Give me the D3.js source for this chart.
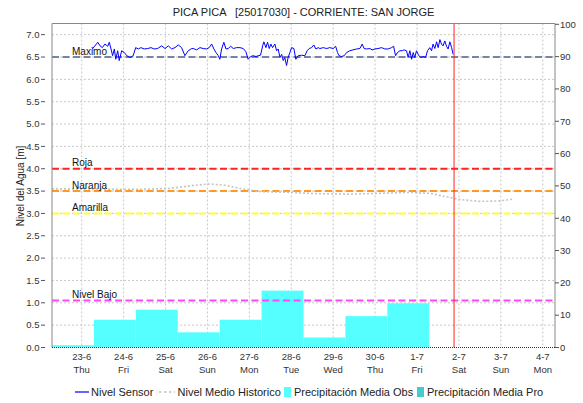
<!DOCTYPE html>
<html><head><meta charset="utf-8">
<script src="https://cdn.jsdelivr.net/npm/d3@7"></script>
<style>
html,body{margin:0;padding:0;background:#fff;}
svg{display:block;font-family:"Liberation Sans",Arial,sans-serif;}
</style></head>
<body><svg id="c" width="583" height="403"></svg>
<script>
// ---------- DATA ----------
const titleText = "PICA PICA   [25017030] - CORRIENTE: SAN JORGE";
const yLabel = "Nivel del Agua [m]";
// day ticks (dates 2016)
const tickDates = ["2016-06-23","2016-06-24","2016-06-25","2016-06-26","2016-06-27","2016-06-28","2016-06-29","2016-06-30","2016-07-01","2016-07-02","2016-07-03","2016-07-04"];
const leftTicks = [0,0.5,1,1.5,2,2.5,3,3.5,4,4.5,5,5.5,6,6.5,7];
const rightTicks = [0,10,20,30,40,50,60,70,80,90,100];
// precipitation (mm/day, 07:00 -> 07:00), day start dates
const precipDays = ["2016-06-22","2016-06-23","2016-06-24","2016-06-25","2016-06-26","2016-06-27","2016-06-28","2016-06-29","2016-06-30"];
const precipObs = [0.7, 8.6, 11.7, 4.7, 8.6, 17.6, 3.1, 9.7, 13.7];
// thresholds (m)
const thrNames = ["Maximo","Roja","Naranja","Amarilla","Nivel Bajo"];
const thrLevels = [6.5, 4.0, 3.5, 3.0, 1.05];
const thrColors = ["#7784a6","#ff2222","#ff9922","#ffff33","#ff44ff"];
// sensor level: hours after 2016-06-23 00:00, value (m)
const sensorT = [6.1,8.0,9.2,10.5,11.8,13.3,14.9,15.8,16.8,17.7,18.7,19.5,20.6,21.5,22.9,24.4,25.8,27.6,29.5,30.9,32.4,33.9,35.8,37.8,39.7,41.5,43.5,45.8,47.7,49.6,51.5,53.4,55.3,57.2,59.1,61.0,63.0,
 63.9,65.8,67.7,69.6,71.5,73.0,74.4,75.7,76.9,78.2,79.1,80.1,81.4,82.6,83.9,85.3,86.8,88.7,90.6,92.5,94.0,95.3,96.7,98.2,99.8,101.1,102.4,103.6,104.3,105.5,106.4,107.4,108.3,109.3,110.6,111.6,112.5,113.5,114.5,115.4,116.3,117.3,118.2,119.2,120.2,121.5,122.6,124.0,125.9,127.8,129.1,130.3,131.6,132.9,134.1,135.4,
 136.4,138.3,140.2,142.1,144.0,145.4,146.5,147.3,148.8,150.3,151.7,153.5,155.4,157.4,159.3,160.6,161.7,163.1,165.0,166.3,167.9,169.7,171.7,173.6,175.5,177.4,178.6,179.7,180.8,182.2,183.5,184.6,186.0,186.9,187.9,188.9,189.8,190.7,191.7,193.0,194.2,195.5,196.9,198.0,199.3,200.3,201.2,202.2,203.2,204.1,205.1,206.0,206.9,207.9,208.9,209.8,210.8,211.8,212.7];
const sensorV = [6.68,6.77,6.83,6.75,6.71,6.79,6.74,6.83,6.68,6.53,6.68,6.45,6.64,6.42,6.64,6.60,6.53,6.49,6.53,6.71,6.68,6.71,6.68,6.69,6.71,6.68,6.69,6.75,6.69,6.75,6.68,6.71,6.77,6.71,6.53,6.64,6.69,
 6.69,6.66,6.71,6.69,6.68,6.71,6.79,6.68,6.60,6.53,6.45,6.68,6.83,6.68,6.69,6.74,6.69,6.71,6.71,6.69,6.62,6.45,6.51,6.53,6.51,6.53,6.54,6.75,6.84,6.71,6.83,6.69,6.79,6.71,6.79,6.64,6.68,6.49,6.56,6.42,6.49,6.31,6.49,6.60,6.71,6.69,6.45,6.53,6.54,6.53,6.64,6.69,6.71,6.77,6.68,6.71,
 6.69,6.71,6.69,6.71,6.69,6.74,6.60,6.53,6.51,6.53,6.60,6.64,6.66,6.68,6.69,6.79,6.69,6.68,6.69,6.66,6.68,6.69,6.71,6.68,6.68,6.71,6.74,6.53,6.60,6.64,6.64,6.66,6.64,6.49,6.64,6.45,6.60,6.49,6.64,6.53,6.49,6.51,6.49,6.64,6.71,6.64,6.79,6.69,6.84,6.71,6.89,6.79,6.75,6.86,6.74,6.68,6.84,6.71,6.56];
// historic mean level: hours after 2016-06-23 00:00, value (m)
const histT = [-17,-1.0,16.2,33.4,50.5,64.8,73.4,82.0,90.6,102.0,119.2,136.4,153.6,170.7,187.9,199.3,207.9,216.5,228.0,239.4,246.8];
const histV = [3.55,3.55,3.54,3.54,3.56,3.63,3.66,3.63,3.56,3.49,3.47,3.44,3.43,3.45,3.47,3.45,3.38,3.31,3.27,3.28,3.32];
// current time marker (hours after 2016-06-23 00:00)
const nowHour = 213.2;
const legendNames = ["Nivel Sensor","Nivel Medio Historico","Precipitación Media Obs","Precipitación Media Pro"];
const legendColors = ["#0000ff","#c4c4c4","#55ffff","#44cccc"];

// ---------- CHART ----------
const svg = d3.select("#c");
const L = 52, R = 555, T = 23.5, B = 347.5;
const base = Date.UTC(2016,5,23,0);
const hr = h => new Date(base + h*3600e3);
const parseD = s => { const [y,m,d] = s.split("-").map(Number); return new Date(Date.UTC(y,m-1,d)); };
const x = d3.scaleUtc().domain([new Date(Date.UTC(2016,5,22,7)), new Date(Date.UTC(2016,6,4,7))]).range([L,R]);
const yL = d3.scaleLinear().domain([0,7.25]).range([B,T]);
const yR = d3.scaleLinear().domain([0,100]).range([B,T+0.8]);

svg.append("rect").attr("width",583).attr("height",403).attr("fill","#fff");

// title
svg.append("text").attr("x",(L+R)/2).attr("y",16).attr("text-anchor","middle")
  .attr("font-size",11).attr("fill","#222").style("white-space","pre").text(titleText);

const g = svg.append("g");
const clip = svg.append("defs").append("clipPath").attr("id","pc").append("rect")
  .attr("x",L).attr("y",T).attr("width",R-L).attr("height",B-T);

// gridlines
const days = tickDates.map(parseD);
g.selectAll("line.vg").data(days).join("line").attr("class","vg")
  .attr("x1",d=>x(d)).attr("x2",d=>x(d)).attr("y1",T).attr("y2",B)
  .attr("stroke","#c8c8c8").attr("stroke-dasharray","2,2");
g.selectAll("line.hg").data(leftTicks.filter(v=>v>0)).join("line").attr("class","hg")
  .attr("x1",L).attr("x2",R).attr("y1",d=>yL(d)).attr("y2",d=>yL(d))
  .attr("stroke","#c8c8c8").attr("stroke-dasharray","2,2");

// precipitation bars
const pd = precipDays.map((s,i)=>({s:new Date(parseD(s).getTime()+7*3600e3), v:precipObs[i]}));
g.append("g").attr("clip-path","url(#pc)").selectAll("rect").data(pd).join("rect")
  .attr("x",d=>x(d.s)).attr("width",d=>x(new Date(d.s.getTime()+24*3600e3))-x(d.s))
  .attr("y",d=>yR(d.v)).attr("height",d=>B-yR(d.v)).attr("fill",legendColors[2]);

// threshold lines
thrLevels.forEach((lv,i)=>{
  g.append("line").attr("x1",L).attr("x2",R).attr("y1",yL(lv)).attr("y2",yL(lv))
    .attr("stroke",thrColors[i]).attr("stroke-width",2).attr("stroke-dasharray","7,3.5");
});

// historic
const line = d3.line().x(d=>x(d[0])).y(d=>yL(d[1]));
g.append("path").attr("clip-path","url(#pc)")
  .datum(histT.map((t,i)=>[hr(t),histV[i]])).attr("d",line)
  .attr("fill","none").attr("stroke","#c4c4c4").attr("stroke-width",1.6).attr("stroke-dasharray","2,2");

// sensor
g.append("path").datum(sensorT.map((t,i)=>[hr(t),sensorV[i]])).attr("d",line)
  .attr("fill","none").attr("stroke","#0000ff").attr("stroke-width",1);

// threshold labels
thrLevels.forEach((lv,i)=>{
  g.append("text").attr("x",72).attr("y",yL(lv)-2.5).attr("font-size",10).attr("fill","#111").text(thrNames[i]);
});

// now marker
g.append("line").attr("x1",x(hr(nowHour))).attr("x2",x(hr(nowHour))).attr("y1",T).attr("y2",B)
  .attr("stroke","#ff2020").attr("stroke-width",1);

// frame
svg.append("path").attr("d",`M${L},${B}V${T}H${R}V${B}`).attr("fill","none").attr("stroke","#888").attr("stroke-width",1);
svg.append("line").attr("x1",L).attr("x2",R).attr("y1",B).attr("y2",B).attr("stroke","#333").attr("stroke-dasharray","1,1");

// left axis
const la = svg.append("g");
leftTicks.forEach(v=>{
  la.append("line").attr("x1",41).attr("x2",45).attr("y1",yL(v)).attr("y2",yL(v)).attr("stroke","#555");
  la.append("text").attr("x",39.5).attr("y",yL(v)+3.3).attr("text-anchor","end").attr("font-size",9.5).attr("fill","#333").text(d3.format(".1f")(v));
});
// right axis
const ra = svg.append("g");
rightTicks.forEach(v=>{
  ra.append("line").attr("x1",R).attr("x2",R+4).attr("y1",yR(v)).attr("y2",yR(v)).attr("stroke","#555");
  ra.append("text").attr("x",R+5).attr("y",yR(v)+3.3).attr("font-size",9.5).attr("fill","#333").text(v);
});
// bottom axis labels
const f1 = d3.utcFormat("%-d-%-m"), f2 = d3.utcFormat("%a");
days.forEach(d=>{
  svg.append("text").attr("x",x(d)).attr("y",360).attr("text-anchor","middle").attr("font-size",9.5).attr("fill","#333").text(f1(d));
  svg.append("text").attr("x",x(d)).attr("y",373).attr("text-anchor","middle").attr("font-size",9.5).attr("fill","#333").text(f2(d));
});

// y title
svg.append("text").attr("transform","translate(24,186) rotate(-90)").attr("text-anchor","middle")
  .attr("font-size",10).attr("fill","#222").text(yLabel);

// legend
const ly = 392;
const lg = svg.append("g").attr("font-size",11).attr("fill","#222");
lg.append("line").attr("x1",75).attr("x2",89).attr("y1",ly).attr("y2",ly).attr("stroke",legendColors[0]).attr("stroke-width",1.2);
lg.append("text").attr("x",91).attr("y",ly+4).text(legendNames[0]);
lg.append("line").attr("x1",159).attr("x2",175).attr("y1",ly).attr("y2",ly).attr("stroke",legendColors[1]).attr("stroke-width",1.5).attr("stroke-dasharray","2.5,2.5");
lg.append("text").attr("x",177.5).attr("y",ly+4).text(legendNames[1]);
lg.append("rect").attr("x",284).attr("y",ly-5).attr("width",7).attr("height",10).attr("fill",legendColors[2]);
lg.append("text").attr("x",294).attr("y",ly+4).text(legendNames[2]);
lg.append("rect").attr("x",417).attr("y",ly-5).attr("width",7).attr("height",10).attr("fill",legendColors[3]);
lg.append("text").attr("x",427).attr("y",ly+4).text(legendNames[3]);
</script></body></html>
